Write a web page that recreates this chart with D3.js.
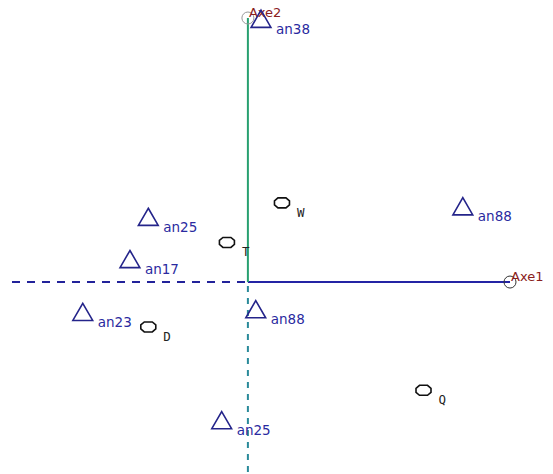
<!DOCTYPE html>
<html>
<head>
<meta charset="utf-8">
<script src="https://cdn.jsdelivr.net/npm/d3@7"></script>
<style>
  body { margin: 0; background: #fff; }
  svg { display: block; }
</style>
</head>
<body>
<svg></svg>
<script>
// factorial map: variables (triangles) and individuals (octagons)

var varNames = ["an38", "an88", "an25", "an17", "an23", "an88", "an25"];
var varX = [0.05, 0.82, -0.38, -0.45, -0.63, 0.03, -0.10];
var varY = [0.99, 0.28, 0.24, 0.08, -0.12, -0.11, -0.53];

var indNames = ["W", "T", "D", "Q"];
var indX = [0.13, -0.08, -0.38, 0.67];
var indY = [0.30, 0.15, -0.17, -0.41];

var axisNames = ["Axe1", "Axe2"];

var svgWidth = 553, svgHeight = 474;

var svg = d3.select("svg")
    .attr("width", svgWidth)
    .attr("height", svgHeight);

var xScale = d3.scaleLinear().domain([-0.9, 1]).range([12, 510]);
var yScale = d3.scaleLinear().domain([-0.727, 1]).range([474, 18]);

var x0 = xScale(0), y0 = yScale(0);

// negative halves, dashed
svg.append("line")
    .attr("x1", xScale(-0.9)).attr("x2", x0)
    .attr("y1", y0).attr("y2", y0)
    .attr("stroke", "#22229a").attr("stroke-width", 2)
    .attr("stroke-dasharray", "8,7");
svg.append("line")
    .attr("x1", x0).attr("x2", x0)
    .attr("y1", y0 + 4).attr("y2", yScale(-0.727))
    .attr("stroke", "#2a8a9a").attr("stroke-width", 2)
    .attr("stroke-dasharray", "6,6");

// positive halves, solid
svg.append("line")
    .attr("x1", x0).attr("x2", xScale(1))
    .attr("y1", y0).attr("y2", y0)
    .attr("stroke", "#2424a4").attr("stroke-width", 2);
svg.append("line")
    .attr("x1", x0).attr("x2", x0)
    .attr("y1", y0).attr("y2", yScale(1))
    .attr("stroke", "#28a070").attr("stroke-width", 2);

// axis end circles and names
var ends = [[xScale(1), y0], [x0, yScale(1)]];
svg.selectAll("circle.end")
    .data(ends)
    .enter()
    .append("circle")
    .attr("class", "end")
    .attr("cx", function(d) { return d[0]; })
    .attr("cy", function(d) { return d[1]; })
    .attr("r", 6)
    .attr("fill", "none")
    .attr("stroke", function(d, i) { return i == 0 ? "#333" : "#999"; })
    .attr("stroke-width", 1);

svg.selectAll("text.axe")
    .data(axisNames)
    .enter()
    .append("text")
    .attr("class", "axe")
    .attr("x", function(d, i) { return ends[i][0] + 1; })
    .attr("y", function(d, i) { return ends[i][1] - 1; })
    .attr("font-family", "DejaVu Sans, sans-serif")
    .attr("font-size", 13)
    .attr("fill", "#8a2020")
    .text(function(d) { return d; });

// variables: triangles
var triangle = d3.symbol().type(d3.symbolTriangle).size(170);
svg.selectAll("path.var")
    .data(varNames)
    .enter()
    .append("path")
    .attr("class", "var")
    .attr("d", triangle)
    .attr("transform", function(d, i) {
        return "translate(" + xScale(varX[i]) + "," + (yScale(varY[i]) + 1) + ")";
    })
    .attr("fill", "none")
    .attr("stroke", "#24248a")
    .attr("stroke-width", 1.6);

svg.selectAll("text.var")
    .data(varNames)
    .enter()
    .append("text")
    .attr("class", "var")
    .attr("x", function(d, i) { return xScale(varX[i]) + 15; })
    .attr("y", function(d, i) { return yScale(varY[i]) + 13; })
    .attr("font-family", "DejaVu Sans, sans-serif")
    .attr("font-size", 13.5)
    .attr("fill", "#2a2aa0")
    .text(function(d) { return d; });

// individuals: octagons
svg.selectAll("path.ind")
    .data(indNames)
    .enter()
    .append("path")
    .attr("class", "ind")
    .attr("d", "M-4,-5 L4,-5 L7.5,-2 L7.5,2 L4,5 L-4,5 L-7.5,2 L-7.5,-2 Z")
    .attr("transform", function(d, i) {
        return "translate(" + xScale(indX[i]) + "," + yScale(indY[i]) + ")";
    })
    .attr("fill", "none")
    .attr("stroke", "#111")
    .attr("stroke-width", 1.6);

svg.selectAll("text.ind")
    .data(indNames)
    .enter()
    .append("text")
    .attr("class", "ind")
    .attr("x", function(d, i) { return xScale(indX[i]) + 15; })
    .attr("y", function(d, i) { return yScale(indY[i]) + 14; })
    .attr("font-family", "DejaVu Sans Mono, monospace")
    .attr("font-size", 12.5)
    .attr("fill", "#222")
    .text(function(d) { return d; });
</script>
</body>
</html>
